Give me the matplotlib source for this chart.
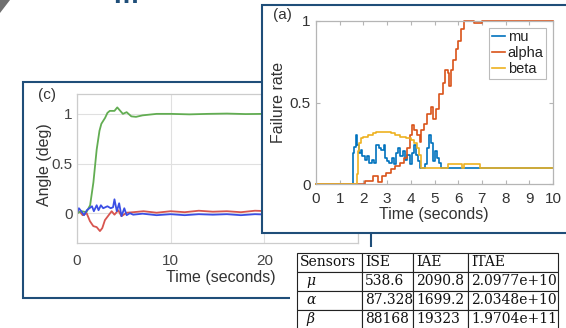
import matplotlib
matplotlib.use('Agg')
import matplotlib.pyplot as plt
from matplotlib.patches import Rectangle, Polygon
from matplotlib.font_manager import FontProperties

plt.rcParams['font.family'] = ['Liberation Sans', 'DejaVu Sans']

W, H, DPI = 566, 328, 100

# ---------------- panel (a): failure rates (step data) ----------------
t_mu = [0, 1.56, 1.62, 1.68, 1.74, 1.80, 1.88, 1.95, 2.05, 2.15, 2.22, 2.35, 2.45,
        2.55, 2.65, 2.75, 2.85, 2.92, 3.00, 3.10, 3.20, 3.28, 3.38, 3.48, 3.56,
        3.65, 3.75, 3.85, 3.95, 4.05, 4.12, 4.22, 4.30, 4.40, 4.60, 4.68, 4.75,
        4.85, 4.92, 5.00, 5.10, 5.20, 5.28, 10.0]
mu = [0, 0.19, 0.23, 0.30, 0.24, 0.19, 0.21, 0.17, 0.15, 0.17, 0.13, 0.15, 0.13,
      0.24, 0.22, 0.21, 0.24, 0.16, 0.14, 0.13, 0.16, 0.12, 0.19, 0.22, 0.17,
      0.20, 0.15, 0.18, 0.12, 0.19, 0.24, 0.18, 0.14, 0.10, 0.12, 0.22, 0.30,
      0.25, 0.14, 0.20, 0.16, 0.13, 0.10, 0.10]
t_alpha = [0, 2.08, 2.40, 2.62, 2.80, 2.95, 3.15, 3.35, 3.55, 3.70, 3.85, 3.95,
           4.05, 4.15, 4.25, 4.38, 4.45, 4.55, 4.70, 4.85, 4.95, 5.05, 5.20, 5.35,
           5.45, 5.55, 5.62, 5.70, 5.80, 5.90, 6.00, 6.10, 6.25, 6.65, 7.00, 10.0]
alpha = [0, 0.02, 0.05, 0.015, 0.05, 0.07, 0.09, 0.11, 0.13, 0.16, 0.22, 0.30,
         0.36, 0.33, 0.30, 0.26, 0.33, 0.37, 0.43, 0.47, 0.40, 0.46, 0.55, 0.62,
         0.70, 0.68, 0.60, 0.70, 0.76, 0.83, 0.88, 0.95, 1.0, 0.985, 1.0, 1.0]
t_beta = [0, 1.74, 1.77, 1.82, 1.90, 2.00, 2.20, 2.40, 2.55, 3.15, 3.35, 3.55,
          3.80, 4.00, 4.15, 4.25, 4.35, 4.45, 5.55, 6.18, 6.25, 6.90, 10.0]
beta = [0, 0.06, 0.20, 0.25, 0.28, 0.29, 0.30, 0.31, 0.32, 0.31, 0.30, 0.29,
        0.28, 0.27, 0.25, 0.22, 0.18, 0.10, 0.12, 0.10, 0.12, 0.10, 0.10]
a_xticks = list(range(0, 11))
a_yticks = [0, 0.5, 1]
a_yticklabels = ['0', '0.5', '1']
a_series = ['mu', 'alpha', 'beta']

# ---------------- panel (c): angles ----------------
tc_green = [0, 0.5, 1.0, 1.4, 1.75, 2.1, 2.4, 2.6, 3.0, 3.25, 3.5, 4.0, 4.3, 4.9,
            5.3, 5.8, 6.3, 7.0, 8.5, 10, 12, 14, 16, 18, 20, 22, 24, 26, 28, 30]
c_green = [0, 0.02, 0.01, 0.08, 0.31, 0.64, 0.83, 0.90, 0.96, 1.01, 1.03, 1.03,
           1.065, 1.0, 1.017, 0.975, 0.97, 0.985, 1.0, 1.0, 0.995, 1.0, 1.003,
           0.998, 1.0, 1.0, 0.997, 1.0, 1.0, 1.0]
tc_red = [0, 0.3, 0.6, 1.03, 1.38, 1.74, 2.1, 2.45, 2.7, 2.98, 3.3, 3.7, 4.0, 4.4,
          4.75, 5.3, 6.0, 7.1, 8.5, 10, 11.5, 13, 14.5, 16, 17.5, 19, 20.5, 22,
          24, 26, 28, 30]
c_red = [0, 0.016, -0.02, 0.0, -0.08, -0.13, -0.14, -0.18, -0.15, -0.07, -0.03,
         0.02, -0.015, 0.03, -0.03, 0.005, 0.01, 0.02, 0.005, 0.02, 0.01, 0.025,
         0.015, 0.02, 0.01, 0.025, 0.02, 0.015, 0.02, 0.025, 0.02, 0.02]
tc_blue = [0, 0.2, 0.45, 0.75, 1.05, 1.6, 1.8, 2.1, 2.3, 2.55, 2.8, 3.25, 3.6,
           3.85, 4.0, 4.25, 4.5, 4.75, 5.05, 5.3, 5.65, 6.0, 7.0, 8.5, 10, 11.5,
           13, 14.5, 16, 17.5, 19, 20.5, 22, 24, 26, 28, 30]
c_blue = [0, 0.05, 0.02, -0.02, 0.03, 0.07, 0.02, 0.08, 0.03, 0.08, 0.05, 0.07,
          0.05, 0.06, 0.14, 0.02, 0.10, -0.03, 0.05, -0.02, 0.0, -0.015, -0.005,
          -0.02, -0.01, -0.02, -0.01, -0.015, -0.01, -0.02, -0.01, -0.015, -0.01,
          -0.015, -0.01, -0.01, -0.01]
c_xticks = [0, 10, 20, 30]
c_yticks = [0, 0.5, 1]
c_yticklabels = ['0', '0.5', '1']

# ---------------- table ----------------
table_cols = ['Sensors', 'ISE', 'IAE', 'ITAE']
sensors = ['μ', 'α', 'β']
ise = ['538.6', '87.328', '88168']
iae = ['2090.8', '1699.2', '19323']
itae = ['2.0977e+10', '2.0348e+10', '1.9704e+11']

NAVY = '#1f4e79'
C_MU, C_ALPHA, C_BETA = '#0072BD', '#D95319', '#EDB120'
C_GREEN, C_RED, C_BLUE = '#62ad52', '#d8554f', '#3b4fe4'


def rect(l, t, r, b):
    return [l / W, 1 - b / H, (r - l) / W, (b - t) / H]


def fx(px):
    return px / W


def fy(py):
    return 1 - py / H


fig = plt.figure(figsize=(W / DPI, H / DPI), dpi=DPI)
fig.patch.set_facecolor('white')

# decorative corner and cut-off heading glyph
fig.add_artist(Polygon([(fx(0), fy(0)), (fx(10), fy(0)), (fx(0), fy(13))],
                       closed=True, transform=fig.transFigure,
                       facecolor='#707070', edgecolor='none', zorder=0.2))
fig.text(fx(125.5), fy(3), 'm', color=NAVY, fontsize=20, fontweight='bold',
         ha='center', va='baseline', zorder=0.2)

# ---------------- panel (c) ----------------
fig.add_artist(Rectangle((fx(23), fy(297.5)), (371 - 23) / W, (297.5 - 82) / H,
                         transform=fig.transFigure, fill=False, edgecolor=NAVY,
                         lw=1.5, zorder=0.5))
axc = fig.add_axes(rect(77, 94, 358, 243), zorder=1)
axc.plot(tc_red, c_red, color=C_RED, lw=1.3)
axc.plot(tc_green, c_green, color=C_GREEN, lw=1.3)
axc.plot(tc_blue, c_blue, color=C_BLUE, lw=1.3)
axc.set_xlim(0, 30)
axc.set_ylim(-0.3, 1.2)
axc.set_xticks(c_xticks)
axc.set_xticklabels([str(v) for v in c_xticks])
axc.set_yticks(c_yticks)
axc.set_yticklabels(c_yticklabels)
axc.grid(True, color='#e0e0e0', lw=0.8)
axc.set_axisbelow(True)
for s in axc.spines.values():
    s.set_color('#cccccc')
    s.set_linewidth(0.9)
axc.tick_params(axis='both', length=0, labelsize=11, labelcolor='#444444')
axc.tick_params(axis='x', pad=8)
axc.tick_params(axis='y', pad=3)
fig.text(fx(47), fy(95), '(c)', fontsize=11, color='#333333', ha='center', va='center', zorder=1.5)
fig.text(fx(221), fy(277.5), 'Time (seconds)', fontsize=11.5, color='#333333',
         ha='center', va='center', zorder=1.5)
fig.text(fx(44), fy(165), 'Angle (deg)', fontsize=11.5, color='#333333', rotation=90,
         ha='center', va='center', zorder=1.5)

# ---------------- panel (a) ----------------
fig.add_artist(Rectangle((fx(262), fy(233)), (620 - 262) / W, (233 - 4.5) / H,
                         transform=fig.transFigure, facecolor='white', edgecolor=NAVY,
                         lw=1.5, zorder=2))
axa = fig.add_axes(rect(316, 21, 553, 184), zorder=3)
axa.step(t_mu, mu, where='post', color=C_MU, lw=1.2, label=a_series[0], clip_on=False)
axa.step(t_alpha, alpha, where='post', color=C_ALPHA, lw=1.2, label=a_series[1], clip_on=False)
axa.step(t_beta, beta, where='post', color=C_BETA, lw=1.2, label=a_series[2], clip_on=False)
axa.set_xlim(0, 10)
axa.set_ylim(0, 1)
axa.set_xticks(a_xticks)
axa.set_xticklabels([str(v) for v in a_xticks])
axa.set_yticks(a_yticks)
axa.set_yticklabels(a_yticklabels)
for s in axa.spines.values():
    s.set_color('#b5b5b5')
    s.set_linewidth(0.9)
axa.tick_params(axis='both', direction='in', length=3, color='#b5b5b5',
                labelsize=11, labelcolor='#333333', top=True, right=True)
axa.tick_params(axis='x', pad=6)
axa.tick_params(axis='y', pad=4)
leg = axa.legend(loc='upper right', prop=FontProperties(family='Liberation Sans', size=10.5),
                 frameon=True, fancybox=False,
                 framealpha=1, edgecolor='#bbbbbb', handlelength=0.9,
                 handletextpad=0.2, labelspacing=0.12, borderpad=0.2,
                 borderaxespad=0.45)
leg.get_frame().set_linewidth(0.8)
for txt in leg.get_texts():
    txt.set_color('#222222')
fig.text(fx(282), fy(15), '(a)', fontsize=11, color='#333333', ha='center', va='center', zorder=3.5)
fig.text(fx(434), fy(214), 'Time (seconds)', fontsize=11.5, color='#333333',
         ha='center', va='center', zorder=3.5)
fig.text(fx(278.5), fy(102.5), 'Failure rate', fontsize=11.5, color='#333333', rotation=90,
         ha='center', va='center', zorder=3.5)

# ---------------- table ----------------
fig.add_artist(Rectangle((fx(290), fy(340)), (620 - 290) / W, (340 - 247) / H,
                         transform=fig.transFigure, facecolor='white', edgecolor='none',
                         zorder=4))
axt = fig.add_axes(rect(297, 253, 558, 329), zorder=5)
axt.axis('off')
cell_text = [[s, a, b, c] for s, a, b, c in zip(sensors, ise, iae, itae)]
col_px = [65, 51, 55, 90]
tab = axt.table(cellText=cell_text, colLabels=table_cols, cellLoc='left',
                colLoc='left', colWidths=[c / sum(col_px) for c in col_px],
                bbox=[0, 0, 1, 1])
tab.auto_set_font_size(False)
tab.set_fontsize(10)
for (r, c), cell in tab.get_celld().items():
    cell.set_edgecolor('#222222')
    cell.set_linewidth(0.8)
    cell.PAD = 3.0 / col_px[c]
    t = cell.get_text()
    t.set_fontfamily('DejaVu Serif')
    t.set_color('#111111')
    if r > 0 and c == 0:
        t.set_fontstyle('italic')
        cell.PAD = 9.0 / col_px[c]

fig.savefig('out.png', dpi=DPI, facecolor='white')
